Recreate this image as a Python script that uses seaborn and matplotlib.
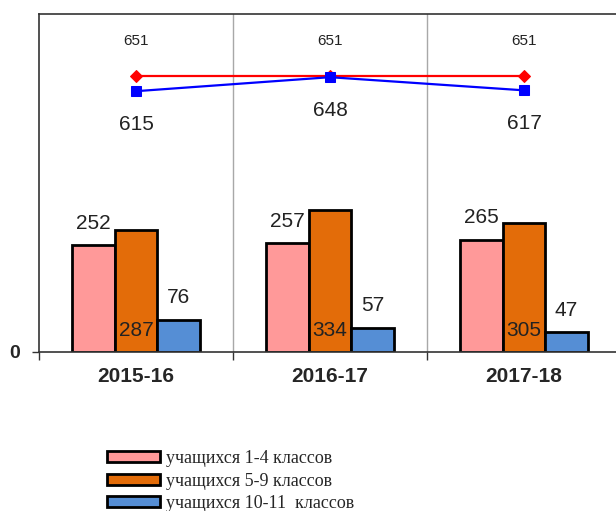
import pandas as pd
import seaborn as sns
import numpy as np
import matplotlib.pyplot as plt
from matplotlib.patches import Patch

# data
years = ["2015-16", "2016-17", "2017-18"]
grades = ["учащихся 1-4 классов", "учащихся 5-9 классов", "учащихся 10-11  классов"]
g1_4 = [252, 257, 265]
g5_9 = [287, 334, 305]
g10_11 = [76, 57, 47]
total = [615, 648, 617]
capacity = [651, 651, 651]

colors = ["#FF9999", "#E36C09", "#558ED5"]

df = pd.DataFrame({
    "year": years * 3,
    "grade": [grades[0]] * 3 + [grades[1]] * 3 + [grades[2]] * 3,
    "n": g1_4 + g5_9 + g10_11,
})

sns.set_style("white")
plt.rcParams["font.family"] = ["Liberation Sans", "DejaVu Sans"]
fig = plt.figure(figsize=(6.16, 5.11), dpi=100)
ax = fig.add_axes([39 / 616, 1 - 352 / 511, 1 - 39 / 616 + 0.008, (352 - 14) / 511])

sns.barplot(data=df, x="year", y="n", hue="grade", hue_order=grades,
            palette=colors, width=0.66, edgecolor="black", linewidth=2,
            saturation=1, legend=False, ax=ax)

xpos = np.arange(len(years))
sns.lineplot(x=xpos, y=capacity, color="#FF0000", marker="D", markersize=6,
             markeredgecolor="#FF0000", linewidth=1.6, ax=ax)
sns.lineplot(x=xpos, y=total, color="#0000FF", marker="s", markersize=7,
             markeredgecolor="#0000FF", linewidth=1.6, ax=ax)

# labels
bw = 0.66 / 3
txt = dict(textcoords="offset points", ha="center", fontsize=15, color="#222222")
for i in range(3):
    ax.annotate(str(g1_4[i]), (xpos[i] - bw, g1_4[i]), xytext=(0, 9), va="bottom", **txt)
    ax.annotate(str(g5_9[i]), (xpos[i], 0), xytext=(0, 9), va="bottom", **txt)
    ax.annotate(str(g10_11[i]), (xpos[i] + bw, g10_11[i]), xytext=(0, 9), va="bottom", **txt)
    ax.annotate(str(total[i]), (xpos[i], total[i]), xytext=(0, -17), va="top", **txt)
    ax.annotate(str(capacity[i]), (xpos[i], capacity[i]), xytext=(0, 20),
                textcoords="offset points", ha="center", va="bottom",
                fontsize=11, color="#222222")

ax.set_xlim(-0.5, 2.5)
ax.set_ylim(0, 797)
ax.set_xlabel("")
ax.set_ylabel("")
ax.set_yticks([0])
ax.set_yticklabels(["0"], fontsize=14, fontweight="bold")
ax.set_xticks(xpos)
ax.set_xticklabels(years, fontsize=15, fontweight="bold")
ax.set_xticks([-0.5, 0.5, 1.5], minor=True)
ax.tick_params(axis="x", which="major", length=0, pad=11)
ax.tick_params(axis="x", which="minor", length=6, width=1, color="#333333", direction="out", bottom=True)
ax.tick_params(axis="y", length=5, width=1, color="#333333", direction="out", left=True, pad=9)
ax.grid(False)
for x in [0.5, 1.5]:
    ax.axvline(x, color="#A8A8A8", linewidth=1, zorder=0)
for side in ["left", "top", "bottom"]:
    ax.spines[side].set_visible(True)
    ax.spines[side].set_color("#333333")
    ax.spines[side].set_linewidth(1.2)
ax.spines["right"].set_visible(False)

handles = [Patch(facecolor=c, edgecolor="black", linewidth=2) for c in colors]
fig.legend(handles, grades, loc="upper left", bbox_to_anchor=(100 / 616, 1 - 443 / 511),
           frameon=False, prop={"family": "Liberation Serif", "size": 13},
           handlelength=2.9, handleheight=0.55, labelspacing=0.3, handletextpad=0.35,
           borderaxespad=0)

fig.savefig("out.png", dpi=100)
